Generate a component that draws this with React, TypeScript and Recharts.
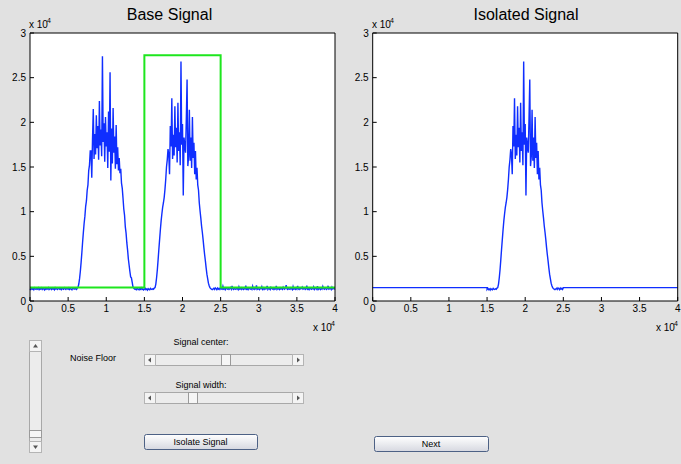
import { CartesianGrid, Line, LineChart, XAxis, YAxis } from "recharts";

// sample spacing of the base signal (x units)
const STEP = 100;

// base signal, one value per STEP from 0 to 40000
const signal = [
  1380, 1290, 1450, 1320, 1410, 1260, 1470, 1350, 1300, 1430,
  1340, 1480, 1270, 1390, 1330, 1460, 1290, 1420, 1360, 1250,
  1440, 1310, 1400, 1350, 1490, 1280, 1370, 1420, 1300, 1450,
  1330, 1390, 1260, 1470, 1340, 1410, 1290, 1380, 1460, 1320,
  1400, 1270, 1430, 1350, 1310, 1480, 1360, 1290, 1440, 1380,
  1320, 1470, 1300, 1410, 1350, 1260, 1450, 1390, 1330, 1420,
  1360, 1300, 1450, 1550, 1900, 2500, 3300, 4300, 5400, 6600,
  7700, 8700, 9500, 10600, 11200, 12400, 13000, 14600, 15200, 16800,
  16800, 13800, 18200, 21500, 15900, 18700, 16400, 20800, 17100, 19600,
  15800, 22400, 17400, 19200, 16200, 27400, 17800, 19900, 15600, 20600,
  17300, 18900, 14900, 21200, 16700, 25600, 13500, 19300, 15400, 21600,
  16600, 18400, 14800, 19700, 15300, 17200, 14600, 16000, 14300, 14800,
  13200, 12600, 11500, 10300, 9600, 8300, 7600, 6500, 5700, 4700,
  4000, 3300, 2700, 2600, 2100, 1600, 1450, 1350, 1300, 1380,
  1270, 1420, 1330, 1250, 1400, 1310, 1460, 1290, 1360, 1240,
  1310, 1430, 1280, 1350, 1220, 1390, 1300, 1260, 1410, 1330,
  1290, 1370, 1320, 1450, 1500, 1900, 2600, 3500, 4600, 5800,
  6900, 8000, 9000, 9800, 10500, 11000, 11600, 12500, 13600, 15000,
  15800, 17000, 16400, 14200, 19600, 17300, 22700, 15900, 18600, 16300,
  21800, 17200, 19400, 15500, 22200, 16800, 18900, 15200, 26800, 17500,
  19800, 11800, 18300, 17400, 16600, 20400, 24800, 15100, 16200, 21400,
  15700, 18300, 14900, 20600, 16000, 17700, 14200, 16800, 13600, 14900,
  13000, 12400, 11000, 10100, 9300, 8400, 7700, 6900, 6000, 5200,
  4500, 3700, 3000, 2500, 2000, 1700, 1500, 1400, 1330, 1280,
  1350, 1420, 1300, 1460, 1380, 1270, 1440, 1330, 1410, 1290,
  1470, 1360, 1310, 1650, 1340, 1400, 1260, 1450, 1370, 1320,
  1430, 1290, 1380, 1500, 1330, 1700, 1350, 1280, 1420, 1360,
  1310, 1450, 1390, 1270, 1580, 1340, 1410, 1300, 1470, 1350,
  1290, 1440, 1360, 1720, 1320, 1400, 1270, 1460, 1380, 1330,
  1420, 1300, 1650, 1350, 1290, 1480, 1370, 1760, 1310, 1400,
  1350, 1270, 1430, 1380, 1600, 1320, 1460, 1290, 1410, 1340,
  1380, 1700, 1300, 1440, 1360, 1270, 1520, 1390, 1330, 1450,
  1290, 1400, 1350, 1680, 1310, 1430, 1370, 1280, 1460, 1340,
  1410, 1300, 1540, 1380, 1320, 1450, 1780, 1350, 1290, 1420,
  1360, 1310, 1470, 1390, 1280, 1620, 1340, 1400, 1300, 1450,
  1330, 1690, 1370, 1290, 1430, 1350, 1410, 1560, 1320, 1380,
  1440, 1300, 1360, 1710, 1330, 1400, 1280, 1460, 1370, 1310,
  1420, 1350, 1580, 1290, 1390, 1440, 1330, 1650, 1300, 1410,
  1360, 1280, 1450, 1340, 1620, 1390, 1310, 1430, 1370, 1290,
  1400, 1700, 1330, 1380, 1460, 1300, 1550, 1350, 1420, 1340,
  1380,
];

const xTicks = [0, 5000, 10000, 15000, 20000, 25000, 30000, 35000, 40000];
const yTicks = [0, 5000, 10000, 15000, 20000, 25000, 30000];

const noiseFloor = 1500;
const signalCenter = 20000;
const signalWidth = 10000;
const gateTop = 27500;
const xMax = 40000;

const signalData = signal.map((y, i) => ({ x: i * STEP, y }));
const lo = signalCenter - signalWidth / 2;
const hi = signalCenter + signalWidth / 2;
const gateData = [
  { x: 0, y: noiseFloor },
  { x: lo, y: noiseFloor },
  { x: lo, y: gateTop },
  { x: hi, y: gateTop },
  { x: hi, y: noiseFloor },
  { x: xMax, y: noiseFloor },
];
const isolatedData = [
  { x: 0, y: noiseFloor },
  { x: lo, y: noiseFloor },
  ...signalData.filter((p) => p.x >= lo && p.x <= hi),
  { x: hi, y: noiseFloor },
  { x: xMax, y: noiseFloor },
];

const BLUE = "#0f2eff";
const GREEN = "#1ee61e";
const fmt = (v: number) => String(v / 10000);
const tickStyle = { fontSize: 10, fill: "#000" };

function Plot({ width, left, right, children }: { width: number; left: number; right: number; children: any }) {
  return (
    <LineChart width={width} height={330} margin={{ top: 0, right: 0, bottom: 0, left: 0 }}>
      <CartesianGrid horizontal={false} vertical={false} fill="#ffffff" />
      <XAxis type="number" dataKey="x" domain={[0, xMax]} ticks={xTicks} interval={0} tickFormatter={fmt}
        height={29} tickSize={-4} tickMargin={8} stroke="#000" tick={tickStyle} />
      <XAxis xAxisId="top" orientation="top" type="number" dataKey="x" domain={[0, xMax]} ticks={xTicks}
        interval={0} height={33} tickSize={-4} tick={false} stroke="#000" />
      <YAxis type="number" domain={[0, 30000]} ticks={yTicks} interval={0} tickFormatter={fmt}
        width={left} tickSize={-4} tickMargin={8} stroke="#000" tick={tickStyle} />
      <YAxis yAxisId="right" orientation="right" type="number" domain={[0, 30000]} ticks={yTicks}
        interval={0} width={right} tickSize={-4} tick={false} stroke="#000" />
      {children}
    </LineChart>
  );
}

function Exp({ x, y }: { x: number; y: number }) {
  return (
    <g fontSize={10} fill="#000">
      <text x={x} y={y}>x 10</text>
      <text x={x + 18} y={y - 5} fontSize={7}>4</text>
    </g>
  );
}

function HSlider({ y, thumb }: { y: number; thumb: number }) {
  return (
    <g>
      <rect x={144.5} y={y + 0.5} width={159} height={11} fill="#ececec" stroke="#a8a8a8" />
      <rect x={144.5} y={y + 0.5} width={11} height={11} fill="#f4f4f4" stroke="#b4b4b4" />
      <rect x={292.5} y={y + 0.5} width={11} height={11} fill="#f4f4f4" stroke="#b4b4b4" />
      <polygon points={`148,${y + 6} 151,${y + 3.5} 151,${y + 8.5}`} fill="#555" />
      <polygon points={`300,${y + 6} 297,${y + 3.5} 297,${y + 8.5}`} fill="#555" />
      <rect x={thumb + 0.5} y={y + 0.5} width={9} height={11} fill="#f6f6f6" stroke="#9a9a9a" />
    </g>
  );
}

function Button({ x, y, w, label }: { x: number; y: number; w: number; label: string }) {
  return (
    <g>
      <rect x={x + 0.5} y={y + 0.5} width={w} height={15} rx={2} fill="url(#btn)" stroke="#4d6185" />
      <text x={x + w / 2} y={y + 11} textAnchor="middle" fontSize={9} fill="#000">{label}</text>
    </g>
  );
}

export default function App() {
  return (
    <div style={{ position: "fixed", left: 0, top: 0, width: 681, height: 464, background: "#e1e1e1",
      fontFamily: "'Liberation Sans', Arial, sans-serif", overflow: "hidden" }}>
      <div style={{ position: "absolute", left: 0, top: 0 }}>
        <Plot width={340} left={30} right={5}>
          <Line data={signalData} dataKey="y" stroke={BLUE} strokeWidth={1.4} dot={false} isAnimationActive={false} />
          <Line data={gateData} dataKey="y" stroke={GREEN} strokeWidth={2} dot={false} isAnimationActive={false} />
        </Plot>
      </div>
      <div style={{ position: "absolute", left: 340, top: 0 }}>
        <Plot width={341} left={32.7} right={3.3}>
          <Line data={isolatedData} dataKey="y" stroke={BLUE} strokeWidth={1.4} dot={false} isAnimationActive={false} />
        </Plot>
      </div>
      <svg width={681} height={464} style={{ position: "absolute", left: 0, top: 0, pointerEvents: "none" }}>
        <defs>
          <linearGradient id="btn" x1="0" y1="0" x2="0" y2="1">
            <stop offset="0%" stopColor="#ffffff" />
            <stop offset="100%" stopColor="#d6d8e0" />
          </linearGradient>
        </defs>
        <text x={169.5} y={20} textAnchor="middle" fontSize={16} fill="#000">Base Signal</text>
        <text x={526} y={20} textAnchor="middle" fontSize={16} fill="#000">Isolated Signal</text>
        <Exp x={29} y={28} />
        <Exp x={372} y={28} />
        <Exp x={313} y={331} />
        <Exp x={656} y={331} />

        {/* noise floor slider */}
        <rect x={29.5} y={340.5} width={12} height={112} fill="#ececec" stroke="#a8a8a8" />
        <rect x={29.5} y={340.5} width={12} height={11} fill="#f4f4f4" stroke="#b4b4b4" />
        <rect x={29.5} y={441.5} width={12} height={11} fill="#f4f4f4" stroke="#b4b4b4" />
        <polygon points="35.5,344 33,347.5 38,347.5" fill="#555" />
        <polygon points="35.5,449 33,445.5 38,445.5" fill="#555" />
        <rect x={29.5} y={430.5} width={12} height={7} fill="#f6f6f6" stroke="#9a9a9a" />
        <text x={70} y={360.5} fontSize={9} fill="#000">Noise Floor</text>

        <text x={201} y={345} textAnchor="middle" fontSize={9} fill="#000">Signal center:</text>
        <HSlider y={354} thumb={221} />
        <text x={201} y={388} textAnchor="middle" fontSize={9} fill="#000">Signal width:</text>
        <HSlider y={392} thumb={188} />

        <Button x={144} y={434} w={113} label="Isolate Signal" />
        <Button x={374} y={436} w={114} label="Next" />
      </svg>
    </div>
  );
}
